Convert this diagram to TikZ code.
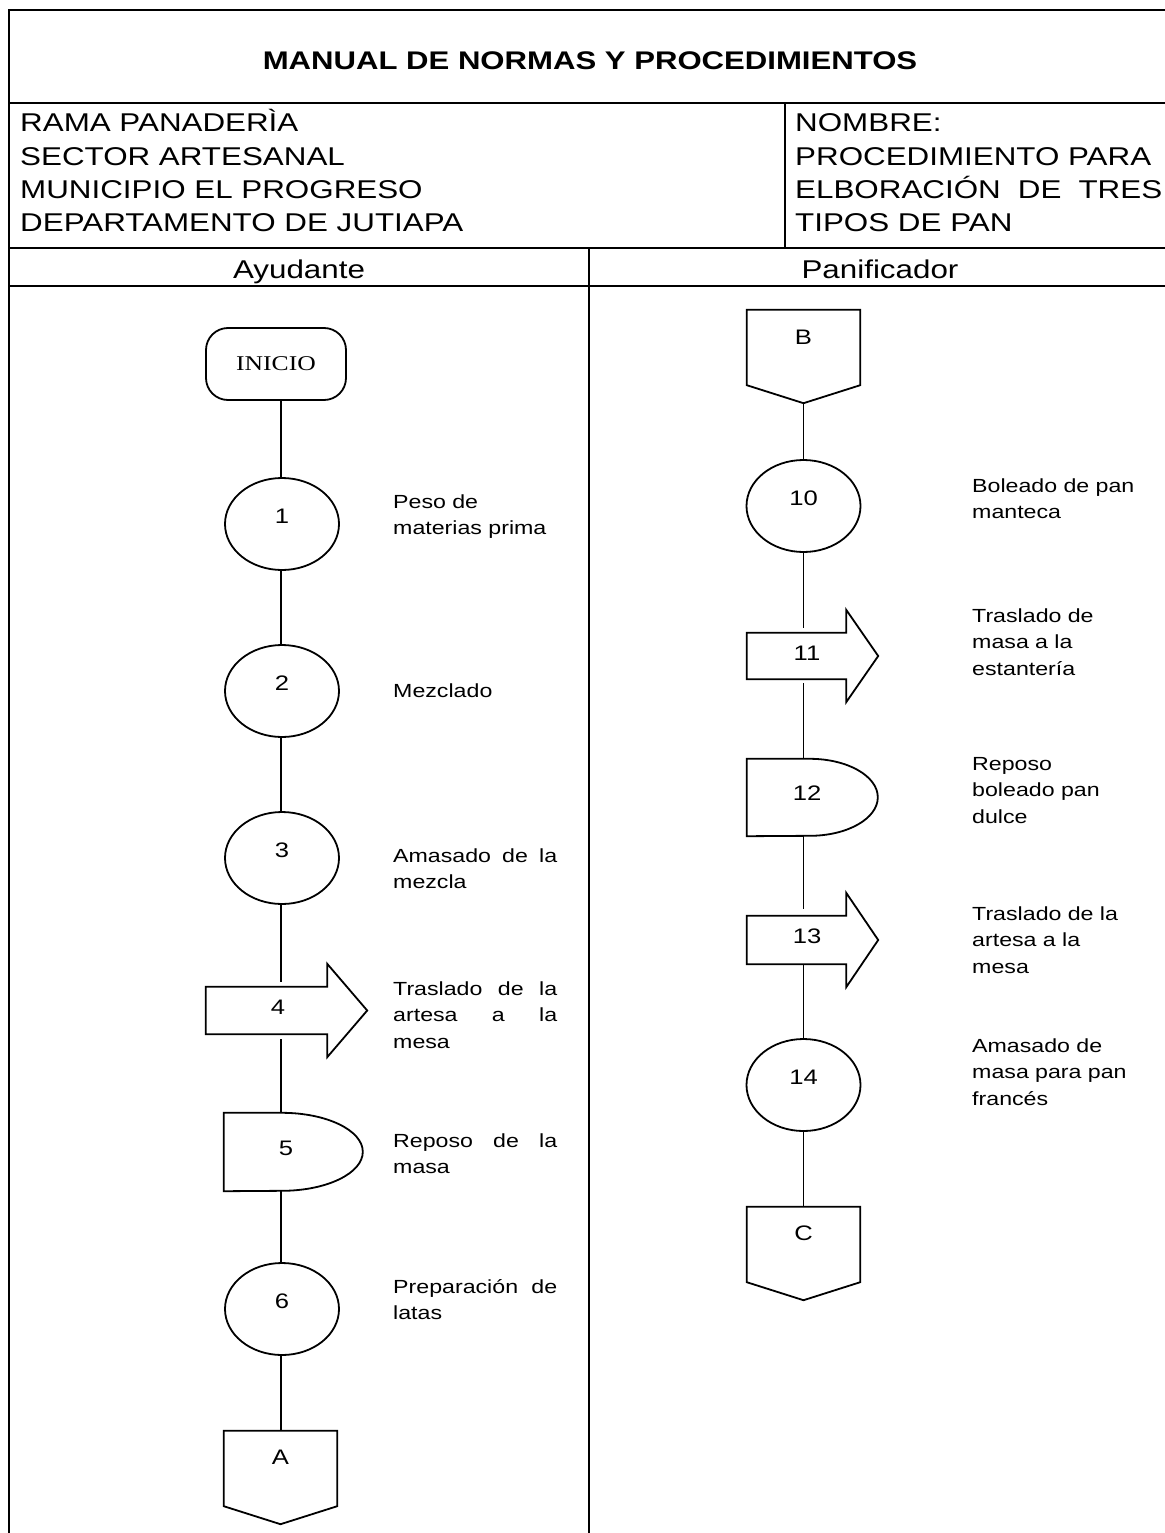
\documentclass[tikz,border=0pt]{standalone}
\usepackage{fontspec}
\setmainfont{Liberation Sans}[FakeStretch=1.22]
\newfontfamily\inicfont{Liberation Serif}[FakeStretch=1.22]
\usetikzlibrary{shapes.geometric}
\newcommand{\just}[1]{{\spaceskip=.3333em plus 10em\relax\makebox[164pt][s]{#1}}}
\begin{document}
\begin{tikzpicture}[x=1pt,y=-1pt,
	marco/.style={line width=2.5pt},
	shp/.style={line width=1.8pt},
	linea/.style={line width=1.8pt},
	enc/.style={font=\fontsize{25.7}{30}\selectfont, inner sep=0pt, anchor=base west},
	num/.style={font=\fontsize{21}{25}\selectfont, inner sep=0pt, text height=15pt},
	oper/.style={num, ellipse, draw, line width=1.8pt, minimum width=114pt, minimum height=92pt, text depth=16pt},
	caja/.style={num, rectangle},
	desc/.style={font=\fontsize{19}{26.5}\selectfont, inner sep=0pt, anchor=base west, align=left},
	descI/.style={desc, text width=170pt},
	descD/.style={desc, text width=185pt}]
	\path[use as bounding box, fill=white] (0,0) rectangle (1164,1533);
	% marco del formato
	\draw[marco] (9,1540) -- (9,10) -- (1172,10) -- (1172,1540);
	\draw[marco] (9,103) -- (1172,103) (9,248) -- (1172,248) (9,286) -- (1172,286);
	\draw[marco] (785,103) -- (785,248) (589,248) -- (589,1540);
	\node[font=\bfseries\fontsize{25.5}{30}\selectfont, inner sep=0pt] (titulo) at (590,60.5) {MANUAL DE NORMAS Y PROCEDIMIENTOS};
	\foreach \t [count=\i] in {RAMA PANADER\`IA, SECTOR ARTESANAL, MUNICIPIO EL PROGRESO, DEPARTAMENTO DE JUTIAPA}
	\node[enc] (izq\i) at (20,{98.7+33.3*\i}) {\t};
	\foreach \t [count=\i] in {NOMBRE:, PROCEDIMIENTO PARA, {\makebox[367pt][s]{ELBORACIÓN DE TRES}}, TIPOS DE PAN}
	\node[enc] (der\i) at (795,{98.7+33.3*\i}) {\t};
	\node[enc, anchor=base] (ayud) at (299,278) {Ayudante};
	\node[enc, anchor=base] (panif) at (880,278) {Panificador};
	% Ayudante
	\coordinate (ejeI) at (281,0);
	\node[draw, line width=1.8pt, rounded corners=22pt, minimum width=140pt, minimum height=72pt, inner sep=0pt, font=\inicfont\fontsize{21}{25}\selectfont] (ini) at (276,364) {INICIO};
	\node[oper] (s1) at (282,524) {1};
	\node[oper] (s2) at (282,691) {2};
	\node[oper] (s3) at (282,858) {3};
	\node[caja, minimum width=121pt, minimum height=47pt, text depth=7pt] (s4) at (266.5,1010.5) {\hspace*{23pt}4};
	\node[caja, minimum width=139pt, minimum height=78pt, text depth=8pt] (s5) at (293.5,1152) {5\hspace*{15pt}};
	\node[oper] (s6) at (282,1309) {6};
	\node[caja, minimum width=113pt, minimum height=75pt, text depth=23pt] (conA) at (280.5,1468.5) {A};
	% Panificador
	\coordinate (ejeD) at (803.5,0);
	\node[caja, minimum width=113pt, minimum height=75pt, text depth=21pt] (conB) at (803.5,347.5) {B};
	\node[oper] (s10) at (803.5,506) {10};
	\node[caja, minimum width=99pt, minimum height=46pt, text depth=6pt] (s11) at (796.5,656) {\hspace*{21pt}11};
	\node[caja, minimum width=131pt, minimum height=77pt, text depth=9pt] (s12) at (812.5,797.5) {12\hspace*{11pt}};
	\node[caja, minimum width=99pt, minimum height=48pt, text depth=8pt] (s13) at (796.5,940) {\hspace*{21pt}13};
	\node[oper] (s14) at (803.5,1085) {14};
	\node[caja, minimum width=113pt, minimum height=75pt, text depth=23pt] (conC) at (803.5,1244.5) {C};
	\coordinate (Bp) at ([yshift=-19pt]conB.south);
	% contornos
	\foreach \n/\hl in {s4/40, s11/32, s13/32}
	\draw[shp] (\n.north west) -- (\n.north east) -- ++(0,-23) -- ([xshift=\hl]\n.east) -- ([yshift=-23pt]\n.south east) -- (\n.south east) -- (\n.south west) -- cycle;
	\draw[shp] (s5.south west) -- (s5.north west) -- ++(58,0) arc[start angle=90, end angle=-90, x radius=81pt, y radius=39pt] -- cycle;
	\draw[shp] (s12.south west) -- (s12.north west) -- ++(63,0) arc[start angle=90, end angle=-90, x radius=68pt, y radius=38.5pt] -- cycle;
	\foreach \n in {conA, conB, conC}
	\draw[shp] (\n.south west) -- (\n.north west) -- (\n.north east) -- (\n.south east) -- ([yshift=-18pt]\n.south) -- cycle;
	% lineas de flujo
	\foreach \a/\b/\ga/\gb in {ini/s1/0/0, s1/s2/0/0, s2/s3/0/0, s3/s4/0/5, s4/s5/5/0, s5/s6/0/0, s6/conA/0/0}
	\draw[linea, shorten <=\ga pt, shorten >=\gb pt] (ejeI |- \a.south) -- (ejeI |- \b.north);
	\draw[linea] (Bp) -- (ejeD |- s10.north);
	\foreach \a/\b/\ga/\gb in {s10/s11/0/5, s11/s12/4/0, s12/s13/0/7, s13/s14/0/0, s14/conC/0/0}
	\draw[linea, shorten <=\ga pt, shorten >=\gb pt] (ejeD |- \a.south) -- (ejeD |- \b.north);
	% descripciones
	\node[descI] (d1) at (393,508) {Peso de\\materias prima};
	\node[descI] (d2) at (393,697) {Mezclado};
	\node[descI] (d3) at (393,862) {\just{Amasado de la}\\mezcla};
	\node[descI] (d4) at (393,995) {\just{Traslado de la}\\\just{artesa a la}\\mesa};
	\node[descI] (d5) at (393,1147) {\just{Reposo de la}\\masa};
	\node[descI] (d6) at (393,1293) {\just{Preparación de}\\latas};
	\node[descD] (d10) at (972,492) {Boleado de pan\\manteca};
	\node[descD] (d11) at (972,622) {Traslado de\\masa a la\\estantería};
	\node[descD] (d12) at (972,770) {Reposo\\boleado pan\\dulce};
	\node[descD] (d13) at (972,920) {Traslado de la\\artesa a la\\mesa};
	\node[descD] (d14) at (972,1052) {Amasado de\\masa para pan\\francés};
\end{tikzpicture}
\end{document}
